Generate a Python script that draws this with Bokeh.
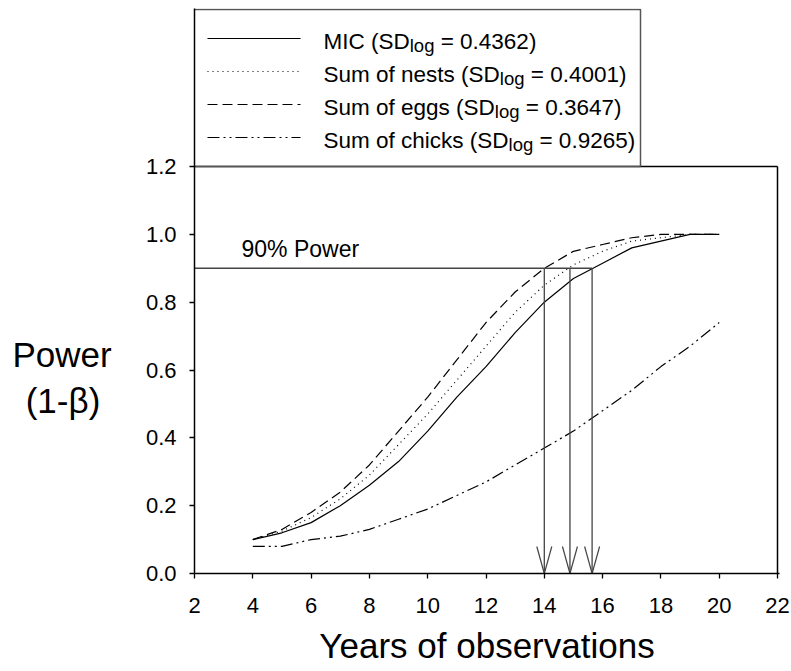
from bokeh.plotting import figure
from bokeh.layouts import row
from bokeh.models import Range1d, FixedTicker, NumeralTickFormatter
from bokeh.embed import file_html
from bokeh.resources import INLINE
from bokeh.core.properties import value

# ---------------- data ----------------
years = [4, 5, 6, 7, 8, 9, 10, 11, 12, 13, 14, 15, 16, 17, 18, 19, 20]
mic = [0.10, 0.12, 0.15, 0.20, 0.26, 0.33, 0.42, 0.52, 0.61, 0.71, 0.80, 0.87, 0.915, 0.96, 0.98, 1.00, 1.00]
nests = [0.10, 0.125, 0.165, 0.22, 0.29, 0.38, 0.47, 0.57, 0.67, 0.77, 0.85, 0.91, 0.95, 0.98, 0.99, 1.00, 1.00]
eggs = [0.10, 0.13, 0.18, 0.24, 0.32, 0.42, 0.52, 0.63, 0.74, 0.83, 0.90, 0.95, 0.97, 0.99, 1.00, 1.00, 1.00]
chicks = [0.08, 0.08, 0.10, 0.11, 0.13, 0.16, 0.19, 0.23, 0.27, 0.32, 0.37, 0.42, 0.48, 0.54, 0.61, 0.67, 0.74]

x_ticks = [2, 4, 6, 8, 10, 12, 14, 16, 18, 20, 22]
y_ticks = [0.0, 0.2, 0.4, 0.6, 0.8, 1.0, 1.2]

power_target = 0.9
crossing_years = [14.0, 14.88, 15.64]   # eggs, nests, MIC reach 90 % power

legend_names = ["MIC (SD", "Sum of nests (SD", "Sum of eggs (SD", "Sum of chicks (SD"]
legend_sub = "log"
legend_sd = ["= 0.4362)", "= 0.4001)", "= 0.3647)", "= 0.9265)"]
legend_dash = ["solid", "1 4", "10 5", "12 4 2 4 2 4"]
series = [mic, nests, eggs, chicks]

x_title = "Years of observations"
y_title = ["Power", "(1-β)"]

# ---------------- layout constants (pixels) ----------------
W, H = 791, 671
LW = 140                          # width of the left strip holding the y title
FL, FT, FB = 194, 8, 573          # frame left / top / bottom (page pixels)
PX22 = 777                        # pixel of x = 22
FR = 779                          # frame right
PX_12 = 166                       # pixel of y = 1.2
XPX = (PX22 - FL) / (x_ticks[-1] - x_ticks[0])
YPX = (FB - PX_12) / y_ticks[-1]


def px2x(px):
    return x_ticks[0] + (px - FL) / XPX


def py2y(py):
    return (FB - py) / YPX


FONT = "Liberation Sans"
AW = {"M": 833, "I": 278, "C": 722, " ": 278, "(": 333, ")": 333, "S": 667, "D": 722,
      "u": 556, "m": 833, "o": 556, "f": 278, "n": 556, "e": 556, "s": 500, "t": 278,
      "g": 556, "c": 500, "h": 556, "i": 222, "k": 500, "l": 222, "=": 584, ".": 278}


def tw(s, size):
    return sum(AW.get(ch, 556) for ch in s) * size / 1000.0


# ---------------- left strip: y title (its frame is aligned with the main frame) ----------------
left = figure(width=LW, height=H, output_backend="svg", toolbar_location=None,
              title=None, x_range=Range1d(0, LW), y_range=Range1d(FB, FT),
              x_axis_location=None, y_axis_location=None,
              min_border=0, min_border_left=0, min_border_right=0,
              min_border_top=0, min_border_bottom=0,
              outline_line_color=None, background_fill_color="white",
              border_fill_color="white")
left.grid.visible = False
left.text(x=[61.5, 62.5], y=[354, 400], text=y_title, text_font=value(FONT),
          text_font_size="35px", text_color="black", text_align="center",
          text_baseline="alphabetic")

# ---------------- main plot ----------------
p = figure(width=W - LW, height=H, output_backend="svg", toolbar_location=None,
           title=None, x_range=Range1d(x_ticks[0], px2x(FR)), y_range=Range1d(0, py2y(FT)),
           min_border_left=FL - LW, min_border_right=W - FR, min_border_top=FT,
           min_border_bottom=H - FB, outline_line_color=None,
           background_fill_color="white", border_fill_color="white")
p.xgrid.visible = False
p.ygrid.visible = False

for ax in (p.xaxis[0], p.yaxis[0]):
    ax.major_label_text_font = FONT
    ax.major_label_text_font_size = "22px"
    ax.major_label_text_color = "black"
    ax.major_tick_out = 5
    ax.major_tick_in = 0
    ax.minor_tick_line_color = None
    ax.axis_line_color = "black"
    ax.axis_line_width = 1.5
    ax.major_tick_line_color = "black"
    ax.major_tick_line_width = 1.3

p.xaxis[0].ticker = FixedTicker(ticks=x_ticks)
p.xaxis[0].major_label_standoff = 19
p.xaxis[0].axis_label = x_title
p.xaxis[0].axis_label_text_font = FONT
p.xaxis[0].axis_label_text_font_size = "35px"
p.xaxis[0].axis_label_text_font_style = "normal"
p.xaxis[0].axis_label_text_color = "black"
p.xaxis[0].axis_label_standoff = 10
p.yaxis[0].ticker = FixedTicker(ticks=y_ticks)
p.yaxis[0].formatter = NumeralTickFormatter(format="0.0")
p.yaxis[0].major_label_standoff = 13

# frame: top and right
p.segment(x0=[x_ticks[0], x_ticks[-1]], y0=[y_ticks[-1], 0],
          x1=[x_ticks[-1], x_ticks[-1]], y1=[y_ticks[-1], y_ticks[-1]],
          line_color="black", line_width=1.5)

# curves
for vals, dash in zip(series, legend_dash):
    p.line(years, vals, line_color="black", line_width=1.2, line_dash=dash)

# 90 % power guide lines
GREY = "#444444"
p.segment(x0=[x_ticks[0]], y0=[power_target], x1=[max(crossing_years)], y1=[power_target],
          line_color=GREY, line_width=1.3)
p.segment(x0=crossing_years, y0=[power_target] * 3, x1=crossing_years, y1=[0] * 3,
          line_color=GREY, line_width=1.3)
hx = 7.5 / XPX
hy = 27 / YPX
p.segment(x0=[c - hx for c in crossing_years] + [c + hx for c in crossing_years],
          y0=[hy] * 6, x1=crossing_years * 2, y1=[0] * 6,
          line_color=GREY, line_width=1.2)

p.text(x=[px2x(241)], y=[py2y(248)], text=["90% Power"], text_font=value(FONT),
       text_font_size="23px", text_color="black", text_baseline="alphabetic")

# legend box
LR, LT = 640, 9
p.line([x_ticks[0], px2x(LR), px2x(LR)], [py2y(LT), py2y(LT), y_ticks[-1]],
       line_color="#555555", line_width=1.5)
p.segment(x0=[x_ticks[0]], y0=[y_ticks[-1]], x1=[px2x(LR)], y1=[y_ticks[-1]],
          line_color="#555555", line_width=1.5)

row_py = [38, 71, 104, 137]
MAIN, SUB = 22.5, 18.5
for name, sd, dash, ry in zip(legend_names, legend_sd, legend_dash, row_py):
    p.line([px2x(207), px2x(300)], [py2y(ry), py2y(ry)], line_color="black",
           line_width=1.2, line_dash=dash)
    x0 = 323
    x1 = x0 + tw(name, MAIN)
    x2 = x1 + tw(legend_sub, SUB) + tw(" ", MAIN)
    p.text(x=[px2x(x0), px2x(x2)], y=[py2y(ry + 3)] * 2, text=[name, sd],
           text_font=value(FONT), text_font_size=f"{MAIN}px", text_color="black",
           text_baseline="alphabetic")
    p.text(x=[px2x(x1)], y=[py2y(ry + 7)], text=[legend_sub],
           text_font=value(FONT), text_font_size=f"{SUB}px", text_color="black",
           text_baseline="alphabetic")

layout = row(left, p, spacing=0)
open("out.html", "w").write(file_html(layout, INLINE))
